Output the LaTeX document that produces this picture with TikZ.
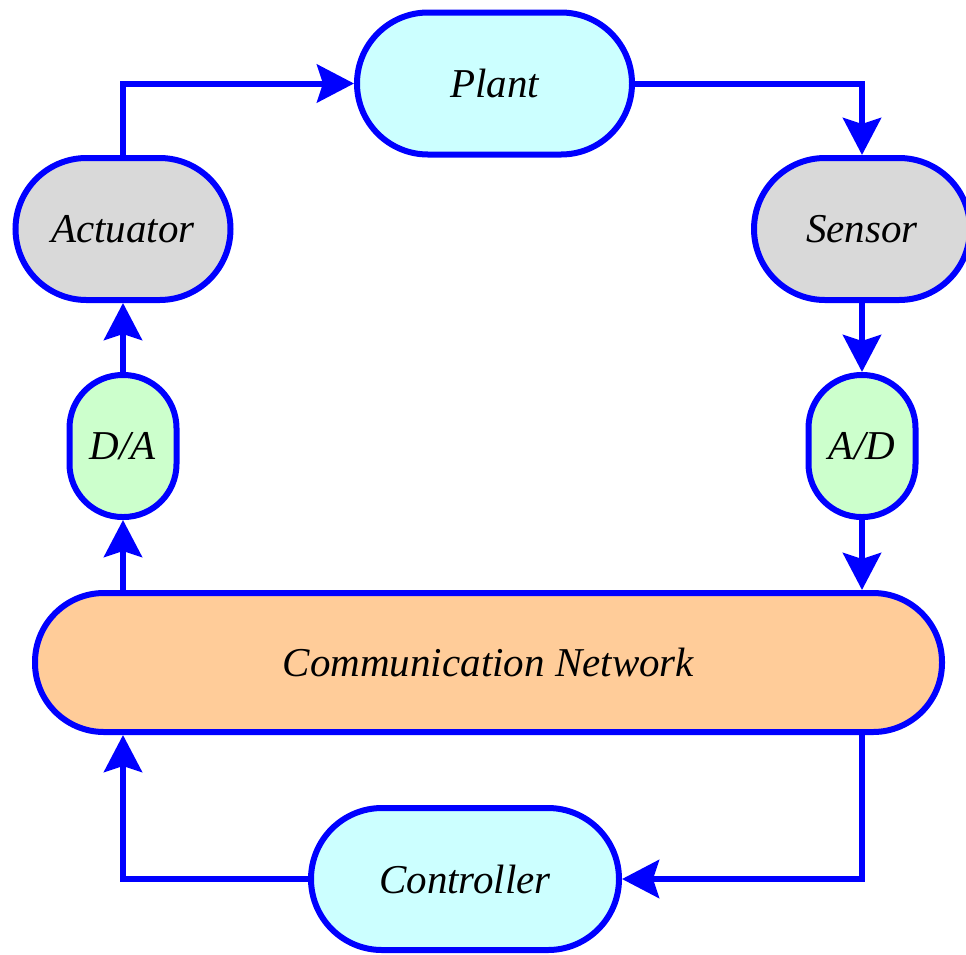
\documentclass[tikz,border=0pt]{standalone}
\usepackage{fontspec}
\setmainfont{Liberation Serif}[ItalicFont={Liberation Serif Italic}]
\usetikzlibrary{arrows.meta}
\definecolor{lineblue}{HTML}{0000FF}
\definecolor{cyanfill}{HTML}{CCFFFF}
\definecolor{grayfill}{HTML}{D9D9D9}
\definecolor{greenfill}{HTML}{CCFFCC}
\definecolor{peachfill}{HTML}{FFCC99}
\begin{document}
\begin{tikzpicture}[x=1pt,y=-1pt,
  blk/.style={draw=lineblue, line width=6pt, rectangle, inner sep=0pt,
    font=\rmfamily\itshape\fontsize{41}{48}\selectfont, text=black},
  hbox/.style={blk, rounded corners=71pt, minimum height=142pt},
  vbox/.style={blk, rounded corners=53pt, minimum width=107pt, minimum height=142pt},
  arr/.style={draw=lineblue, line width=6pt, -{Stealth[length=37pt, width=38pt, inset=6pt]}}
]
\useasboundingbox (0,0) rectangle (966,954);

\node[hbox, fill=cyanfill, minimum width=275pt] (plant) at (494.5,83.5) {Plant};
\node[hbox, fill=grayfill, minimum width=215pt] (act) at (123,229) {Actuator};
\node[hbox, fill=grayfill, minimum width=216pt] (sens) at (862,229) {Sensor};
\node[vbox, fill=greenfill] (da) at (123,446) {D/A};
\node[vbox, fill=greenfill] (ad) at (862,446) {A/D};
\node[hbox, fill=peachfill, minimum width=907pt, minimum height=139pt, rounded corners=69pt] (comm) at (488.5,662.5) {Communication Network};
\node[hbox, fill=cyanfill, minimum width=308pt] (ctrl) at (465,879) {Controller};

\draw[arr] (act.north) |- (plant.west);
\draw[arr] (plant.east) -| (sens.north);
\draw[arr] (sens.south) -- (ad.north);
\draw[arr] (ad.south) -- (ad.south |- comm.north);
\draw[arr] (da.south |- comm.north) -- (da.south);
\draw[arr] (da.north) -- (act.south);
\draw[arr] (ad.south |- comm.south) |- (ctrl.east);
\draw[arr] (ctrl.west) -| (da.south |- comm.south);
\end{tikzpicture}
\end{document}
